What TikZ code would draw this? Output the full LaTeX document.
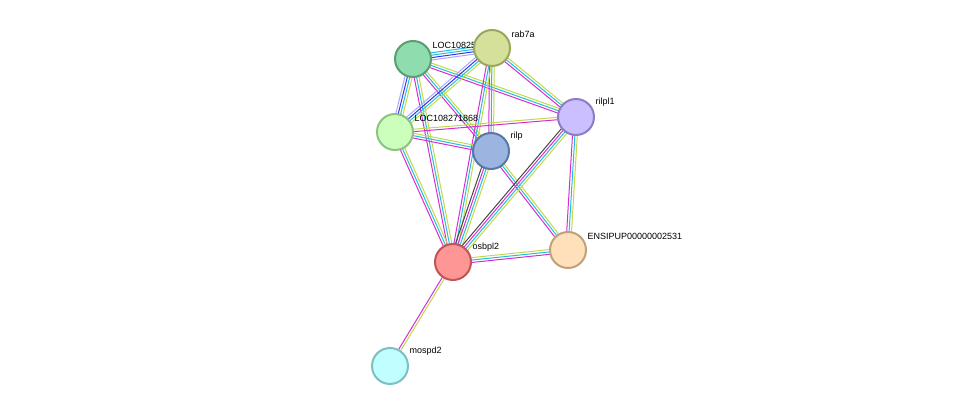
\documentclass[tikz,border=0pt]{standalone}
\usepackage{fontspec}
\setmainfont{Liberation Sans}
\usetikzlibrary{calc,backgrounds}
\definecolor{lkcyan}{HTML}{22BFDD}
\definecolor{lkmag}{HTML}{D62CD6}
\definecolor{lkyel}{HTML}{C2D94A}
\definecolor{lkblue}{HTML}{3434E6}
\definecolor{lklav}{HTML}{A8A8FF}
\definecolor{lkblack}{HTML}{454545}
\definecolor{fa}{HTML}{8FDCAF}\definecolor{da}{HTML}{5A9E72}
\definecolor{fb}{HTML}{D5E09B}\definecolor{db}{HTML}{9AA75E}
\definecolor{fc}{HTML}{CCFFBB}\definecolor{dc}{HTML}{8CC47E}
\definecolor{fd}{HTML}{9CB5E0}\definecolor{dd}{HTML}{5A77A8}
\definecolor{fe}{HTML}{CBBFFF}\definecolor{de}{HTML}{8C7EC4}
\definecolor{ff}{HTML}{FF9696}\definecolor{df}{HTML}{C05555}
\definecolor{fg}{HTML}{FFE0BB}\definecolor{dg}{HTML}{BFA27A}
\definecolor{fh}{HTML}{C0FFFF}\definecolor{dh}{HTML}{7FBFBF}
\tikzset{
  prot/.style 2 args={circle, minimum size=36pt, inner sep=0pt, line width=2pt, fill=#1, draw=#2},
  lbl/.style={anchor=south west, inner sep=0pt, font=\fontsize{9}{9}\selectfont, xshift=6pt, yshift=-3pt},
}
% multi-coloured link between two proteins
\newcommand{\strlink}[4]{%
  \foreach \c [count=\i] in {#4}{%
    \pgfmathsetmacro{\off}{(\i-(#3+1)/2)*2.4}
    \draw[\c, line width=1pt] ($(#1)!\off pt!90:(#2)$) -- ($(#2)!\off pt!-90:(#1)$);
  }}
\begin{document}
\begin{tikzpicture}[x=1pt,y=-1pt]
\useasboundingbox (0,0) rectangle (975,412);

\node[prot={fa}{da}, label={[lbl]north east:LOC108254780}] (loca) at (413,59) {};
\node[prot={fb}{db}, label={[lbl]north east:rab7a}] (rab) at (492,48) {};
\node[prot={fc}{dc}, label={[lbl]north east:LOC108271868}] (locb) at (395,132) {};
\node[prot={fd}{dd}, label={[lbl]north east:rilp}] (rilp) at (491,151) {};
\node[prot={fe}{de}, label={[lbl]north east:rilpl1}] (rilpl) at (576,117) {};
\node[prot={ff}{df}, label={[lbl]north east:osbpl2}] (osb) at (453,262) {};
\node[prot={fg}{dg}, label={[lbl]north east:ENSIPUP00000002531}] (ensi) at (568,250) {};
\node[prot={fh}{dh}, label={[lbl]north east:mospd2}] (mos) at (390,366) {};

\begin{scope}[on background layer]
\strlink{loca}{rab}{4}{lklav,lkblue,lkcyan,lkcyan}
\strlink{loca}{locb}{4}{lklav,lkblue,lkcyan,lkyel}
\strlink{loca}{rilp}{3}{lkmag,lkcyan,lkyel}
\strlink{loca}{rilpl}{3}{lkmag,lkcyan,lkyel}
\strlink{loca}{osb}{3}{lkmag,lkcyan,lkyel}
\strlink{rab}{locb}{4}{lklav,lkblue,lkcyan,lkyel}
\strlink{rab}{rilp}{3}{lkmag,lkcyan,lkyel}
\strlink{rab}{rilpl}{3}{lkmag,lkcyan,lkyel}
\strlink{rab}{osb}{3}{lkmag,lkcyan,lkyel}
\strlink{locb}{rilp}{3}{lkmag,lkcyan,lkyel}
\strlink{locb}{rilpl}{2}{lkmag,lkyel}
\strlink{locb}{osb}{3}{lkmag,lkcyan,lkyel}
\strlink{rilp}{osb}{4}{lkblack,lkmag,lkcyan,lkyel}
\strlink{rilp}{ensi}{3}{lkmag,lkcyan,lkyel}
\strlink{rilpl}{osb}{4}{lkblack,lkmag,lkcyan,lkyel}
\strlink{rilpl}{ensi}{3}{lkmag,lkcyan,lkyel}
\strlink{osb}{ensi}{3}{lkmag,lkcyan,lkyel}
\strlink{osb}{mos}{2}{lkmag,lkyel}
\end{scope}
\end{tikzpicture}
\end{document}
